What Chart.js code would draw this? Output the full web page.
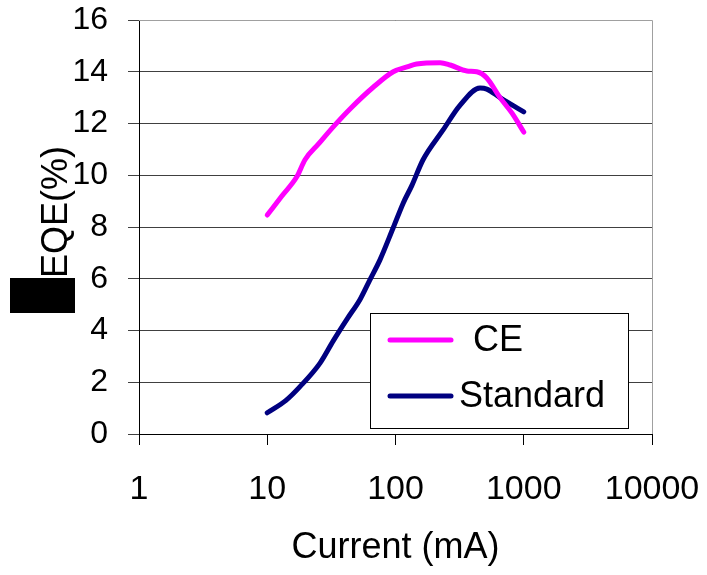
<!DOCTYPE html>
<html>
<head>
<meta charset="utf-8">
<script src="https://cdn.jsdelivr.net/npm/chart.js@4.4.1/dist/chart.umd.min.js"></script>
<style>
  html, body { margin: 0; padding: 0; background: #fff; }
  #wrap { width: 707px; height: 575px; }
</style>
</head>
<body>
<div id="wrap"><canvas id="eqe-chart" width="707" height="575"></canvas></div>
<script>
// values
const xTicks = [1, 10, 100, 1000, 10000]

const ceCurrent = [10, 13, 17, 19.7, 25, 32.7, 45, 67, 96, 125, 146, 223, 267, 360, 430, 515, 653, 810, 1000]
const ceEqe = [8.46, 9.2, 9.94, 10.6, 11.2, 11.87, 12.6, 13.4, 14.0, 14.2, 14.3, 14.35, 14.26, 14.03, 14.0, 13.76, 13.0, 12.4, 11.67]

const stdCurrent = [10, 14, 18, 25.8, 32.7, 42, 52.9, 63, 75.5, 95.8, 115, 134, 164, 235, 318, 456, 515, 653, 853, 1000]
const stdEqe = [0.82, 1.3, 1.83, 2.74, 3.6, 4.45, 5.2, 5.95, 6.72, 7.96, 8.93, 9.6, 10.6, 11.75, 12.7, 13.37, 13.33, 13.0, 12.65, 12.45]

const toPoints = (xs, ys) => xs.map((x, i) => ({ x: x, y: ys[i] }))

const FONT = "'Liberation Sans', Arial, sans-serif"

// top and right frame of the plot, plus the black block on the left
const framePlugin = {
  id: 'frame',
  beforeDatasetsDraw(chart) {
    const { ctx, chartArea } = chart
    ctx.save()
    ctx.strokeStyle = '#a0a0a0'
    ctx.lineWidth = 1
    ctx.beginPath()
    ctx.moveTo(chartArea.left, chartArea.top + 0.5)
    ctx.lineTo(chartArea.right + 0.5, chartArea.top + 0.5)
    ctx.lineTo(chartArea.right + 0.5, chartArea.bottom)
    ctx.stroke()
    ctx.restore()
  },
  afterDraw(chart) {
    const ctx = chart.ctx
    ctx.save()
    ctx.fillStyle = '#000'
    ctx.fillRect(10, 278, 65, 35)
    ctx.restore()
  }
}

// boxed legend inside the plot
const boxLegend = {
  id: 'boxLegend',
  afterDraw(chart) {
    const ctx = chart.ctx
    const box = { x: 370.5, y: 313.5, w: 258, h: 115 }
    ctx.save()
    ctx.fillStyle = '#fff'
    ctx.fillRect(box.x, box.y, box.w, box.h)
    ctx.strokeStyle = '#000'
    ctx.lineWidth = 1
    ctx.strokeRect(box.x, box.y, box.w, box.h)
    const rows = [340, 396]
    const textX = [473, 459]
    chart.data.datasets.forEach((ds, i) => {
      ctx.strokeStyle = ds.borderColor
      ctx.lineWidth = 5
      ctx.lineCap = 'round'
      ctx.beginPath()
      ctx.moveTo(390, rows[i])
      ctx.lineTo(451, rows[i])
      ctx.stroke()
      ctx.fillStyle = '#000'
      ctx.font = `36px ${FONT}`
      ctx.textBaseline = 'middle'
      ctx.textAlign = 'left'
      ctx.fillText(ds.label, textX[i], rows[i] + 1)
    })
    ctx.restore()
  }
}

const ctx = document.getElementById('eqe-chart').getContext('2d')

const chart = new Chart(ctx, {
  type: 'line',
  data: {
    datasets: [
      {
        label: 'CE',
        data: toPoints(ceCurrent, ceEqe),
        borderColor: '#ff00ff',
        borderWidth: 5,
        pointRadius: 0,
        cubicInterpolationMode: 'monotone',
        borderCapStyle: 'round',
        borderJoinStyle: 'round',
      },
      {
        label: 'Standard',
        data: toPoints(stdCurrent, stdEqe),
        borderColor: '#000080',
        borderWidth: 5,
        pointRadius: 0,
        cubicInterpolationMode: 'monotone',
        borderCapStyle: 'round',
        borderJoinStyle: 'round',
      },
    ],
  },
  options: {
    responsive: false,
    animation: false,
    devicePixelRatio: 1,
    layout: { padding: { top: 20, right: 55, left: 0, bottom: 0 } },
    plugins: {
      legend: { display: false },
      tooltip: { enabled: false },
    },
    scales: {
      x: {
        type: 'logarithmic',
        min: 1,
        max: 10000,
        afterBuildTicks: (scale) => {
          scale.ticks = xTicks.map(v => ({ value: v }))
        },
        afterFit: (scale) => {
          scale.height = 141
          scale.paddingLeft = 0
          scale.paddingRight = 0
        },
        grid: {
          drawOnChartArea: false,
          drawTicks: true,
          tickLength: 11,
          color: '#000',
        },
        border: { color: '#000', width: 1 },
        ticks: {
          color: '#000',
          padding: 24,
          maxRotation: 0,
          autoSkip: false,
          font: { family: FONT, size: 34 },
          callback: (v) => String(v),
        },
        title: {
          display: true,
          text: 'Current (mA)',
          color: '#000',
          font: { family: FONT, size: 36 },
          padding: { top: 0, bottom: 5 },
        },
      },
      y: {
        min: 0,
        max: 16,
        afterFit: (scale) => {
          scale.width = 139
          scale.paddingTop = 0
          scale.paddingBottom = 0
        },
        grid: {
          color: '#404040',
          lineWidth: 1,
          drawTicks: true,
          tickLength: 11,
        },
        border: { color: '#000', width: 1 },
        ticks: {
          stepSize: 2,
          color: '#000',
          padding: 20,
          font: { family: FONT, size: 32 },
        },
        title: {
          display: true,
          text: '   EQE(%)',
          color: '#000',
          font: { family: FONT, size: 36 },
          padding: { top: 35, bottom: 0 },
        },
      },
    },
  },
  plugins: [framePlugin, boxLegend],
})
</script>
</body>
</html>
